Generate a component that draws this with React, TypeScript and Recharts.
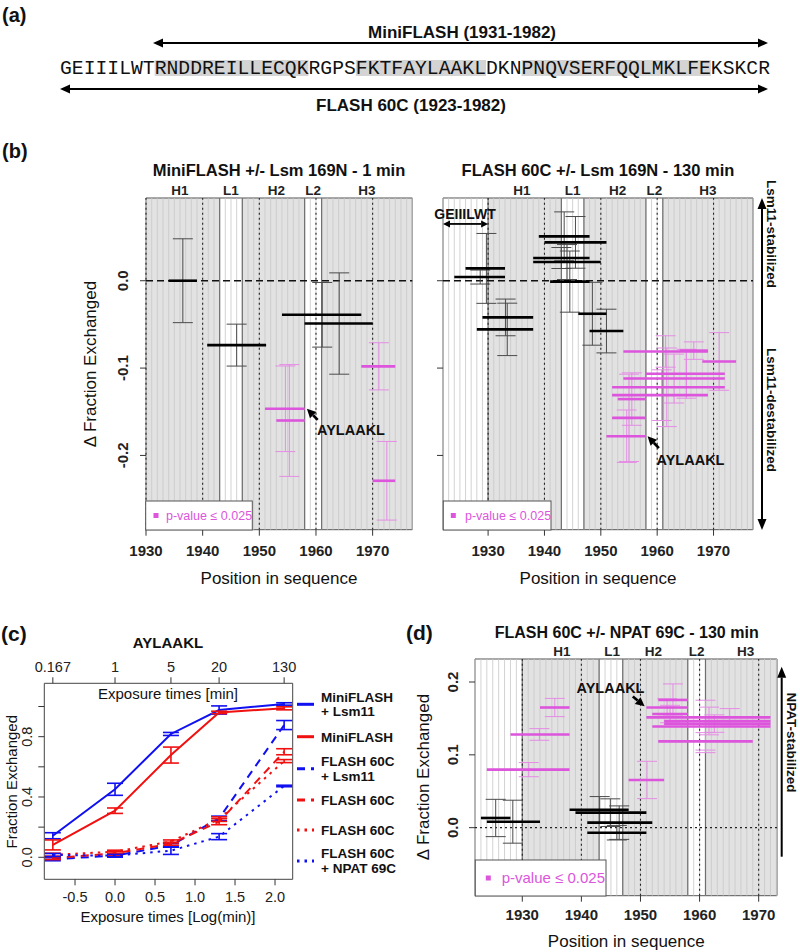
import React from "react";
import { ComposedChart, XAxis, YAxis, ReferenceArea, ReferenceLine, Scatter, ErrorBar, Line } from "recharts";

const SANS = '"Liberation Sans", Arial, Helvetica, sans-serif';
const MONO = '"Liberation Mono", "Courier New", monospace';
const MAGENTA = "#dc55dc";
const MAGENTA_ERR = "#e58ce5";
const BLUE = "#1010f0";
const RED = "#f01010";

// (a) sequence of FLASH 60C, first residue 1923
const SEQUENCE = "GEIIILWTRNDDREILLECQKRGPSFKTFAYLAAKLDKNPNQVSERFQQLMKLFEKSKCR";
const SEQ_FIRST = 1923;
const SEQ_HELICES: [number, number][] = [[1931, 1943], [1948, 1958], [1962, 1977]];

// shared layout of the secondary structure tracks
const GREY_SPANS: [number, number][] = [[1930, 1943], [1947, 1958], [1961, 1977]];
const BOUNDARIES = [1930, 1943, 1947, 1958, 1961];
const GRID_X = [1930, 1940, 1950, 1960, 1970];
const REGION_NAMES = ["H1", "L1", "H2", "L2", "H3"];
const REGION_POS_B = [1936, 1945, 1953, 1959.5, 1969];
const REGION_POS_D = [1936.7, 1945.2, 1952.2, 1959.5, 1967.8];

type Pep = { from: number; to: number; d: number; err: number; bar: number };

// (b) MiniFLASH +/- Lsm 169N - 1 min
const MINI_BLACK: Pep[] = [
  { from: 1934, to: 1939, d: 0.0, err: 0.048, bar: 1936.5 },
  { from: 1940.8, to: 1951.2, d: -0.0737, err: 0.024, bar: 1946 },
  { from: 1954, to: 1968, d: -0.039, err: 0.037, bar: 1961.1 },
  { from: 1958, to: 1970, d: -0.049, err: 0.058, bar: 1964.1 },
];
const MINI_MAGENTA: Pep[] = [
  { from: 1951, to: 1958, d: -0.1466, err: 0.049, bar: 1954.6 },
  { from: 1953, to: 1958, d: -0.16, err: 0.064, bar: 1955.3 },
  { from: 1968, to: 1974, d: -0.098, err: 0.027, bar: 1971.1 },
  { from: 1970, to: 1974, d: -0.229, err: 0.045, bar: 1972.5 },
];

// (b) FLASH 60C +/- Lsm 169N - 130 min
const FLASH_BLACK: Pep[] = [
  { from: 1926, to: 1933, d: 0.0141, err: 0.04, bar: 1929.7 },
  { from: 1924, to: 1933, d: 0.0042, err: 0.008, bar: 1928.6 },
  { from: 1929, to: 1938, d: -0.042, err: 0.021, bar: 1933.1 },
  { from: 1928, to: 1938, d: -0.0557, err: 0.03, bar: 1933.4 },
  { from: 1939, to: 1948, d: 0.0508, err: 0.028, bar: 1943.5 },
  { from: 1940, to: 1951, d: 0.0439, err: 0.0296, bar: 1945.5 },
  { from: 1938, to: 1948, d: 0.026, err: 0.012, bar: 1943 },
  { from: 1938, to: 1950, d: 0.0214, err: 0.02, bar: 1944 },
  { from: 1941, to: 1948, d: -0.001, err: 0.035, bar: 1944.5 },
  { from: 1946, to: 1951, d: -0.0378, err: 0.036, bar: 1948.5 },
  { from: 1948, to: 1954, d: -0.0576, err: 0.025, bar: 1951 },
];
const FLASH_MAGENTA: Pep[] = [
  { from: 1954, to: 1969, d: -0.081, err: 0.018, bar: 1961.5 },
  { from: 1964, to: 1969, d: -0.08, err: 0.01, bar: 1966.5 },
  { from: 1968, to: 1974, d: -0.0924, err: 0.033, bar: 1971 },
  { from: 1958, to: 1972, d: -0.1065, err: 0.028, bar: 1965.2 },
  { from: 1954, to: 1972, d: -0.112, err: 0.028, bar: 1963 },
  { from: 1952, to: 1972, d: -0.122, err: 0.045, bar: 1961.7 },
  { from: 1952, to: 1969, d: -0.131, err: 0.029, bar: 1960.8 },
  { from: 1953, to: 1958, d: -0.1355, err: 0.03, bar: 1955.5 },
  { from: 1952, to: 1958, d: -0.157, err: 0.05, bar: 1955 },
  { from: 1951, to: 1958, d: -0.178, err: 0.03, bar: 1954.6 },
];

// (d) FLASH 60C +/- NPAT 69C - 130 min
const NPAT_BLACK: Pep[] = [
  { from: 1923, to: 1928, d: 0.0133, err: 0.0256, bar: 1925.5 },
  { from: 1924, to: 1933, d: 0.0082, err: 0.0295, bar: 1928.4 },
  { from: 1938, to: 1948, d: 0.0247, err: 0.018, bar: 1943.1 },
  { from: 1939, to: 1951, d: 0.0206, err: 0.019, bar: 1944.9 },
  { from: 1941, to: 1952, d: 0.0069, err: 0.023, bar: 1946.4 },
  { from: 1941, to: 1951, d: -0.0069, err: 0.01, bar: 1946 },
];
const NPAT_MAGENTA: Pep[] = [
  { from: 1933, to: 1938, d: 0.165, err: 0.0125, bar: 1935.5 },
  { from: 1928, to: 1938, d: 0.128, err: 0.008, bar: 1932.9 },
  { from: 1924, to: 1938, d: 0.0797, err: 0.0097, bar: 1931.1 },
  { from: 1948, to: 1954, d: 0.0655, err: 0.0256, bar: 1951.1 },
  { from: 1951, to: 1958, d: 0.165, err: 0.012, bar: 1954.5 },
  { from: 1953, to: 1958, d: 0.1754, err: 0.022, bar: 1955.5 },
  { from: 1952, to: 1958, d: 0.156, err: 0.012, bar: 1955 },
  { from: 1951, to: 1972, d: 0.1515, err: 0.012, bar: 1965.1 },
  { from: 1954, to: 1972, d: 0.1465, err: 0.019, bar: 1961.6 },
  { from: 1954, to: 1972, d: 0.1429, err: 0.012, bar: 1962.5 },
  { from: 1952, to: 1972, d: 0.139, err: 0.036, bar: 1961 },
  { from: 1953, to: 1969, d: 0.1185, err: 0.012, bar: 1961 },
];

// (c) AYLAAKL exchange time course
const EXPOSURE_MIN = [0.167, 1, 5, 20, 130];
const EXPOSURE_LABELS = ["0.167", "1", "5", "20", "130"];
const MINI_LSM = [0.143, 0.451, 0.818, 0.977, 1.017];
const MINI_LSM_ERR = [0.02, 0.04, 0.01, 0.027, 0.008];
const MINI = [0.082, 0.309, 0.678, 0.961, 0.988];
const MINI_ERR = [0.033, 0.018, 0.053, 0.008, 0.01];
const FLASH_LSM = [-0.013, 0.011, 0.079, 0.258, 0.877];
const FLASH_LSM_ERR = [0.01, 0.01, 0.012, 0.015, 0.03];
const FLASH_A = [-0.005, 0.026, 0.09, 0.236, 0.7];
const FLASH_A_ERR = [0.01, 0.012, 0.01, 0.02, 0.02];
const FLASH_B = [0.017, 0.037, 0.105, 0.253, 0.638];
const FLASH_B_ERR = [0.01, 0.01, 0.01, 0.015, 0.01];
const FLASH_NPAT = [0.015, 0.011, 0.044, 0.137, 0.473];
const FLASH_NPAT_ERR = [0.01, 0.008, 0.025, 0.02, 0.005];

const SERIES = [
  { key: "miniLsm", label: ["MiniFLASH", "+ Lsm11"], color: BLUE, dash: undefined, y: MINI_LSM, err: MINI_LSM_ERR },
  { key: "mini", label: ["MiniFLASH"], color: RED, dash: undefined, y: MINI, err: MINI_ERR },
  { key: "flashLsm", label: ["FLASH 60C", "+ Lsm11"], color: BLUE, dash: "8 6", y: FLASH_LSM, err: FLASH_LSM_ERR },
  { key: "flashA", label: ["FLASH 60C"], color: RED, dash: "8 6", y: FLASH_A, err: FLASH_A_ERR },
  { key: "flashB", label: ["FLASH 60C"], color: RED, dash: "2.5 5", y: FLASH_B, err: FLASH_B_ERR },
  { key: "flashNpat", label: ["FLASH 60C", "+ NPAT 69C"], color: BLUE, dash: "2.5 5", y: FLASH_NPAT, err: FLASH_NPAT_ERR },
];
const LEGEND_Y = [704.3, 736.7, 768.7, 800, 830, 861];

function headPoints(tx: number, ty: number, fx: number, fy: number, len: number, half: number) {
  const a = Math.atan2(ty - fy, tx - fx);
  const bx = tx - len * Math.cos(a);
  const by = ty - len * Math.sin(a);
  const px = -Math.sin(a) * half;
  const py = Math.cos(a) * half;
  return { pts: `${tx},${ty} ${bx + px},${by + py} ${bx - px},${by - py}`, bx, by };
}

function Arrow({ x1, y1, x2, y2, both = false, len = 9, half = 4, width = 2 }: any) {
  const end = headPoints(x2, y2, x1, y1, len, half);
  const start = both ? headPoints(x1, y1, x2, y2, len, half) : null;
  return (
    <g>
      <line x1={start ? start.bx : x1} y1={start ? start.by : y1} x2={end.bx} y2={end.by} stroke="#000" strokeWidth={width} />
      <polygon points={end.pts} fill="#000" />
      {start && <polygon points={start.pts} fill="#000" />}
    </g>
  );
}

const NoDot = () => <g />;

type Arw = { from: [number, number]; to: [number, number]; both?: boolean; len: number; half: number; width: number };

function rotatedYTick(size: number, bold: boolean, show: boolean) {
  return (p: any) => {
    if (!show) return <g />;
    const v = p.payload.value as number;
    return (
      <text x={p.x} y={p.y} transform={`rotate(-90 ${p.x} ${p.y})`} textAnchor="middle" fontFamily={SANS}
        fontWeight={bold ? "bold" : "normal"} fontSize={size} fill="#222">
        {v.toFixed(1)}
      </text>
    );
  };
}

function SegmentPanel(props: {
  box: { left: number; top: number; right: number; bottom: number };
  xDomain: [number, number];
  yDomain: [number, number];
  yTicks: number[];
  yLabels: boolean;
  yTickMargin: number;
  xLabelDy: number;
  zeroDotted: boolean;
  regionPos: number[];
  black: Pep[];
  magenta: Pep[];
  arrows: Arw[];
}) {
  const { box, xDomain, yDomain, regionPos } = props;
  const width = box.right - box.left + 45 + 8;
  const height = box.bottom - box.top + 24 + 40;
  const stripes: number[] = [];
  for (let v = Math.ceil(xDomain[0]); v <= xDomain[1]; v++) stripes.push(v);
  const spans = GREY_SPANS.map(([a, b]) => [Math.max(a, xDomain[0]), Math.min(b, xDomain[1])]).filter(([a, b]) => b > a);
  const blackBars = props.black.map((p) => ({ x: p.bar, y: p.d, err: p.err }));
  const magentaBars = props.magenta.map((p) => ({ x: p.bar, y: p.d, err: p.err }));
  // anchors the region-name axis so that it is drawn
  const regionAnchors = regionPos.map((x) => ({ x, y: yDomain[0] }));

  return (
    <div style={{ position: "absolute", left: box.left - 45, top: box.top - 24 }}>
      <ComposedChart width={width} height={height} margin={{ left: 15, right: 8, top: 4, bottom: 10 }}>
        <XAxis type="number" dataKey="x" domain={xDomain} allowDataOverflow ticks={GRID_X} interval={0} height={30}
          axisLine={false} tickLine={{ stroke: "#333" }} tickSize={6}
          tick={(p: any) => (
            <text x={p.x} y={p.y + props.xLabelDy} textAnchor="middle" fontFamily={SANS} fontWeight="bold" fontSize={15} fill="#222">
              {p.payload.value}
            </text>
          )} />
        <XAxis xAxisId="top" orientation="top" type="number" dataKey="x" domain={xDomain} allowDataOverflow ticks={regionPos} interval={0}
          height={20} axisLine={false} tickLine={false} tickSize={0} tickMargin={0}
          tick={(p: any) => (
            <text x={p.x} y={p.y - 3} textAnchor="middle" fontFamily={SANS} fontWeight="bold" fontSize={13.5} fill="#222">
              {REGION_NAMES[regionPos.indexOf(p.payload.value)]}
            </text>
          )} />
        <YAxis type="number" dataKey="y" domain={yDomain} allowDataOverflow ticks={props.yTicks} interval={0} width={30}
          axisLine={false} tickLine={{ stroke: "#333" }} tickSize={6} tickMargin={props.yTickMargin}
          tick={rotatedYTick(15, true, props.yLabels)} />

        {spans.map(([a, b]) => (
          <ReferenceArea key={`g${a}`} x1={a} x2={b} y1={yDomain[0]} y2={yDomain[1]} fill="#e2e2e2" fillOpacity={1} stroke="none" />
        ))}
        {stripes.map((v) => (
          <ReferenceLine key={`s${v}`} x={v} stroke="#c8c8c8" strokeWidth={0.8} />
        ))}
        {BOUNDARIES.filter((v) => v > xDomain[0]).map((v) => (
          <ReferenceLine key={`b${v}`} x={v} stroke="#6e6e6e" strokeWidth={1.2} />
        ))}
        {GRID_X.map((v) => (
          <ReferenceLine key={`d${v}`} x={v} stroke="#222" strokeWidth={1.1} strokeDasharray="2 3" />
        ))}
        {props.zeroDotted ? (
          <ReferenceLine y={0} stroke="#222" strokeWidth={1.1} strokeDasharray="2 3" />
        ) : (
          <ReferenceLine y={0} stroke="#111" strokeWidth={1.6} strokeDasharray="7 4" />
        )}

        <Scatter xAxisId="top" data={regionAnchors} shape={NoDot} isAnimationActive={false} />
        <Scatter data={blackBars} shape={NoDot} isAnimationActive={false}>
          <ErrorBar dataKey="err" direction="y" width={10} stroke="#4a4a4a" strokeWidth={1} />
        </Scatter>
        {props.black.map((p, i) => (
          <ReferenceLine key={`k${i}`} segment={[{ x: p.from, y: p.d }, { x: p.to, y: p.d }]} stroke="#000" strokeWidth={2.6} />
        ))}
        <Scatter data={magentaBars} shape={NoDot} isAnimationActive={false}>
          <ErrorBar dataKey="err" direction="y" width={10} stroke={MAGENTA_ERR} strokeWidth={1} />
        </Scatter>
        {props.magenta.map((p, i) => (
          <ReferenceLine key={`m${i}`} segment={[{ x: p.from, y: p.d }, { x: p.to, y: p.d }]} stroke={MAGENTA} strokeWidth={2.6} />
        ))}
        {props.arrows.map((a, i) => (
          <ReferenceLine key={`a${i}`} segment={[{ x: a.from[0], y: a.from[1] }, { x: a.to[0], y: a.to[1] }]}
            shape={(s: any) => <Arrow x1={s.x1} y1={s.y1} x2={s.x2} y2={s.y2} both={a.both} len={a.len} half={a.half} width={a.width} />} />
        ))}
        <ReferenceArea x1={xDomain[0]} x2={xDomain[1]} y1={yDomain[0]} y2={yDomain[1]} fill="none" stroke="#555" strokeWidth={1} />
      </ComposedChart>
    </div>
  );
}

const LOG_TICKS = EXPOSURE_MIN.map((t) => Math.log10(t));
const C_X_DOMAIN: [number, number] = [-0.884, 2.221];
const C_Y_DOMAIN: [number, number] = [-0.146, 1.154];

function TimeCourse() {
  const topAnchors = LOG_TICKS.map((x) => ({ x, y: 0.5 }));
  return (
    <div style={{ position: "absolute", left: 0, top: 640 }}>
      <ComposedChart width={300} height={270} margin={{ left: 14.3, right: 7.3, top: 13.3, bottom: 0.7 }}>
        <XAxis type="number" dataKey="x" domain={C_X_DOMAIN} allowDataOverflow ticks={[-0.5, 0, 0.5, 1, 1.5, 2]} interval={0}
          height={30} axisLine={false} tickLine={{ stroke: "#333" }} tickSize={6}
          tick={(p: any) => (
            <text x={p.x} y={p.y + 15} textAnchor="middle" fontFamily={SANS} fontSize={14.5} fill="#222">
              {(p.payload.value as number).toFixed(1)}
            </text>
          )} />
        <XAxis xAxisId="top" orientation="top" type="number" dataKey="x" domain={C_X_DOMAIN} allowDataOverflow ticks={LOG_TICKS} interval={0}
          height={30} axisLine={false} tickLine={{ stroke: "#333" }} tickSize={6} tickMargin={5}
          tick={(p: any) => {
            const i = LOG_TICKS.findIndex((v) => Math.abs(v - p.payload.value) < 1e-6);
            return (
              <text x={p.x} y={p.y} textAnchor="middle" fontFamily={SANS} fontSize={14.5} fill="#222">
                {EXPOSURE_LABELS[i]}
              </text>
            );
          }} />
        <YAxis type="number" dataKey="y" domain={C_Y_DOMAIN} allowDataOverflow ticks={[0, 0.2, 0.4, 0.6, 0.8, 1.0]} interval={0} width={30}
          axisLine={false} tickLine={{ stroke: "#333" }} tickSize={6} tickMargin={6.4}
          tick={(p: any) => {
            const v = p.payload.value as number;
            if (Math.abs(v - 0.2) < 1e-6 || Math.abs(v - 0.6) < 1e-6 || Math.abs(v - 1) < 1e-6) return <g />;
            return (
              <text x={p.x} y={p.y} transform={`rotate(-90 ${p.x} ${p.y})`} textAnchor="middle" fontFamily={SANS} fontSize={14.5} fill="#222">
                {v.toFixed(1)}
              </text>
            );
          }} />
        <Scatter xAxisId="top" data={topAnchors} shape={NoDot} isAnimationActive={false} />
        {SERIES.map((s) => (
          <Line key={s.key} data={EXPOSURE_MIN.map((t, i) => ({ x: Math.log10(t), y: s.y[i], err: s.err[i] }))}
            dataKey="y" stroke={s.color} strokeWidth={2} strokeDasharray={s.dash} dot={false} activeDot={false}
            isAnimationActive={false}>
            <ErrorBar dataKey="err" direction="y" width={8} stroke={s.color} strokeWidth={1.6} />
          </Line>
        ))}
        <ReferenceArea x1={C_X_DOMAIN[0]} x2={C_X_DOMAIN[1]} y1={C_Y_DOMAIN[0]} y2={C_Y_DOMAIN[1]} fill="none" stroke="#444" strokeWidth={1} />
      </ComposedChart>
    </div>
  );
}

function T({ x, y, children, size = 15, bold = false, anchor = "middle", rotate = 0, color = "#111", family = SANS }: any) {
  return (
    <text x={x} y={y} textAnchor={anchor} fontFamily={family} fontSize={size} fontWeight={bold ? "bold" : "normal"} fill={color}
      transform={rotate ? `rotate(${rotate} ${x} ${y})` : undefined}>
      {children}
    </text>
  );
}

function PValueBox({ x, y, w, h, size, sq, tx }: any) {
  return (
    <g>
      <rect x={x} y={y} width={w} height={h} fill="#fff" stroke="#555" strokeWidth={1} />
      <rect x={sq - 2.5} y={y + h / 2 - 2.5} width={5} height={5} fill={MAGENTA} />
      <T x={tx} y={y + h / 2 + size * 0.36} size={size} anchor="start" color={MAGENTA}>p-value ≤ 0.025</T>
    </g>
  );
}

function Overlay() {
  const charW = 710 / SEQUENCE.length;
  const seqX = 60;
  return (
    <svg width={800} height={952} style={{ position: "absolute", left: 0, top: 0, pointerEvents: "none" }}>
      {/* (a) */}
      <T x={2} y={22} size={20} bold anchor="start">(a)</T>
      <T x={462} y={38} size={17} bold>MiniFLASH (1931-1982)</T>
      <Arrow x1={153} y1={43} x2={768} y2={43} both len={10} half={4.5} width={2} />
      {SEQ_HELICES.map(([a, b]) => (
        <rect key={a} x={seqX + (a - SEQ_FIRST) * charW} y={60} width={(b - a + 1) * charW} height={16} fill="#d4d4d4" />
      ))}
      <text x={seqX} y={74} fontFamily={MONO} fontSize={19.7} textLength={710} lengthAdjust="spacing" fill="#111">{SEQUENCE}</text>
      <Arrow x1={60} y1={89} x2={768} y2={89} both len={10} half={4.5} width={2} />
      <T x={411} y={111} size={17} bold>FLASH 60C (1923-1982)</T>

      {/* (b) */}
      <T x={2} y={158} size={20} bold anchor="start">(b)</T>
      <T x={279} y={175.5} size={16.5} bold>MiniFLASH +/- Lsm 169N - 1 min</T>
      <T x={598} y={175.5} size={16.5} bold>FLASH 60C +/- Lsm 169N - 130 min</T>
      <T x={96} y={364} size={17} rotate={-90}>Δ Fraction Exchanged</T>
      <T x={279} y={584} size={17}>Position in sequence</T>
      <T x={598} y={584} size={17}>Position in sequence</T>
      <PValueBox x={145.7} y={501} w={106.6} h={29} size={12.5} sq={156} tx={166} />
      <PValueBox x={443.3} y={501} w={107.7} h={29} size={12.5} sq={453.3} tx={465} />
      <T x={351} y={435} size={14.5} bold>AYLAAKL</T>
      <T x={690.5} y={465} size={14.5} bold>AYLAAKL</T>
      <T x={465} y={219} size={14} bold>GEIIILWT</T>
      <Arrow x1={762} y1={530} x2={762} y2={198} both len={11} half={4.5} width={2} />
      <T x={767} y={234} size={13.5} bold rotate={90}>Lsm11-stabilized</T>
      <T x={767} y={410} size={13.5} bold rotate={90}>Lsm11-destabilized</T>

      {/* (c) */}
      <T x={1} y={641} size={21} bold anchor="start">(c)</T>
      <T x={168} y={648} size={15} bold>AYLAAKL</T>
      <T x={168} y={698.5} size={15}>Exposure times [min]</T>
      <T x={168} y={922} size={15}>Exposure times [Log(min)]</T>
      <T x={17.4} y={781.7} size={15} rotate={-90}>Fraction Exchanged</T>
      {SERIES.map((s, i) => {
        const ly = LEGEND_Y[i];
        const tys = s.label.length === 2 ? [ly - 7.5, ly + 7] : [ly];
        return (
          <g key={s.key}>
            <line x1={297} y1={ly} x2={314} y2={ly} stroke={s.color} strokeWidth={3} strokeDasharray={s.dash} />
            {s.label.map((t, j) => (
              <T key={j} x={321} y={tys[j] + 4.8} size={13.5} bold anchor="start">{t}</T>
            ))}
          </g>
        );
      })}

      {/* (d) */}
      <T x={406} y={640} size={21} bold anchor="start">(d)</T>
      <T x={626.7} y={638} size={16} bold>FLASH 60C +/- NPAT 69C - 130 min</T>
      <T x={429} y={777} size={17} rotate={-90}>Δ Fraction Exchanged</T>
      <T x={626.3} y={946.5} size={17}>Position in sequence</T>
      <PValueBox x={475.3} y={860} w={130.7} h={36} size={15} sq={488.3} tx={501.7} />
      <T x={610.5} y={692.5} size={14.5} bold>AYLAAKL</T>
      <Arrow x1={781.7} y1={856.7} x2={781.7} y2={666.7} len={11} half={4.5} width={2} />
      <T x={786.5} y={742.5} size={13.5} bold rotate={90}>NPAT-stabilized</T>
    </svg>
  );
}

const B_Y_DOMAIN: [number, number] = [-0.285, 0.0947];
const D_Y_DOMAIN: [number, number] = [-0.0934, 0.2316];

export default function App() {
  return (
    <div style={{ position: "absolute", left: 0, top: 0, width: 800, height: 952, background: "#fff", overflow: "hidden" }}>
      <SegmentPanel
        box={{ left: 145.7, top: 198.3, right: 412, bottom: 530 }}
        xDomain={[1930, 1977]}
        yDomain={B_Y_DOMAIN}
        yTicks={[-0.2, -0.1, 0]}
        yLabels
        yTickMargin={11.6}
        xLabelDy={18.7}
        zeroDotted={false}
        regionPos={REGION_POS_B}
        black={MINI_BLACK}
        magenta={MINI_MAGENTA}
        arrows={[{ from: [1960.3, -0.1592], to: [1958.4, -0.1466], len: 9, half: 4.5, width: 2.6 }]}
      />
      <SegmentPanel
        box={{ left: 443.3, top: 198.3, right: 753.3, bottom: 530 }}
        xDomain={[1922, 1977]}
        yDomain={B_Y_DOMAIN}
        yTicks={[-0.2, -0.1, 0]}
        yLabels={false}
        yTickMargin={11.6}
        xLabelDy={18.7}
        zeroDotted={false}
        regionPos={REGION_POS_B}
        black={FLASH_BLACK}
        magenta={FLASH_MAGENTA}
        arrows={[
          { from: [1960.3, -0.1916], to: [1958.3, -0.178], len: 9, half: 4.5, width: 2.6 },
          { from: [1922, 0.065], to: [1930, 0.065], both: true, len: 7, half: 3.5, width: 1.8 },
        ]}
      />
      <SegmentPanel
        box={{ left: 475.3, top: 659.3, right: 777.3, bottom: 896 }}
        xDomain={[1922, 1973.1]}
        yDomain={D_Y_DOMAIN}
        yTicks={[0, 0.1, 0.2]}
        yLabels
        yTickMargin={10.6}
        xLabelDy={16}
        zeroDotted
        regionPos={REGION_POS_D}
        black={NPAT_BLACK}
        magenta={NPAT_MAGENTA}
        arrows={[{ from: [1948.7, 0.18], to: [1950.7, 0.1666], len: 9, half: 4.5, width: 2.6 }]}
      />
      <TimeCourse />
      <Overlay />
    </div>
  );
}
